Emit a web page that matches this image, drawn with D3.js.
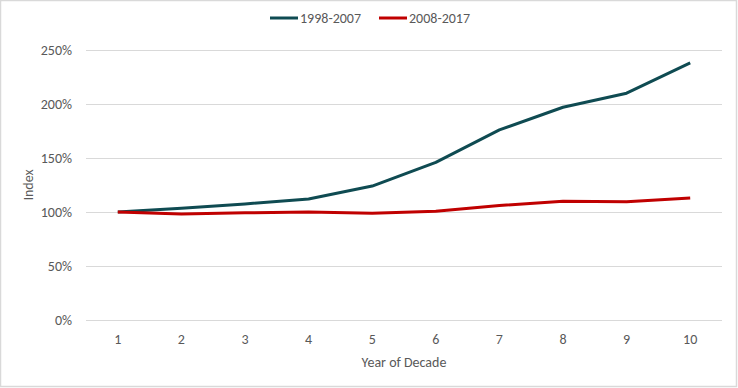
<!DOCTYPE html>
<html>
<head>
<meta charset="utf-8">
<script src="https://cdn.jsdelivr.net/npm/d3@7"></script>
<style>
  body { margin: 0; background: #fff; }
  text { font-family: Calibri, Carlito, "Liberation Sans", sans-serif; fill: #595959; }
</style>
</head>
<body>
<script>
// data
var years = [1, 2, 3, 4, 5, 6, 7, 8, 9, 10];
var decade1998 = [100, 103.5, 107.5, 112, 124, 146, 176, 197, 210, 238];
var decade2008 = [100, 98.2, 99.2, 100, 98.8, 100.8, 106, 110, 109.5, 113];
var yTicks = [0, 50, 100, 150, 200, 250];
var seriesNames = ["1998-2007", "2008-2017"];
var seriesColors = ["#0f4b52", "#c00000"];

var width = 738, height = 388;
var margin = {top: 50, right: 16, bottom: 68, left: 86};
var fontSize = "14px";

var svg = d3.select("body").append("svg")
	.attr("width", width)
	.attr("height", height);

// outer frame like the excel chart area
svg.append("rect")
	.attr("x", 0.5).attr("y", 0.5)
	.attr("width", width - 2).attr("height", height - 2)
	.attr("fill", "#fff")
	.attr("stroke", "#d9d9d9")
	.attr("stroke-width", 1.5);

var x = d3.scaleBand()
	.domain(years)
	.range([margin.left, width - margin.right]);

var y = d3.scaleLinear()
	.domain([0, 250])
	.range([height - margin.bottom, margin.top]);

// gridlines
svg.append("g")
	.selectAll("line")
	.data(yTicks)
	.enter()
	.append("line")
	.attr("x1", margin.left)
	.attr("x2", width - margin.right)
	.attr("y1", function(d) { return Math.round(y(d)) + 0.5; })
	.attr("y2", function(d) { return Math.round(y(d)) + 0.5; })
	.attr("stroke", "#d9d9d9")
	.attr("stroke-width", 1);

// y tick labels
var yAxis = svg.append("g")
	.attr("transform", "translate(" + (margin.left - 10) + ",0)")
	.call(d3.axisLeft(y).tickValues(yTicks).tickSize(0).tickPadding(4)
		.tickFormat(function(d) { return d + "%"; }));
yAxis.select(".domain").remove();
yAxis.selectAll("text")
	.attr("font-size", fontSize)
	.attr("fill", "#595959")
	.style("font-family", null);

// x tick labels
var xAxis = svg.append("g")
	.attr("transform", "translate(0," + (height - margin.bottom) + ")")
	.call(d3.axisBottom(x).tickSize(0).tickPadding(14));
xAxis.select(".domain").remove();
xAxis.selectAll("text")
	.attr("font-size", fontSize)
	.attr("fill", "#595959")
	.style("font-family", null);

// axis titles
svg.append("text")
	.text("Year of Decade")
	.attr("x", (margin.left + width - margin.right) / 2)
	.attr("y", 367)
	.attr("text-anchor", "middle")
	.attr("font-size", fontSize);

svg.append("text")
	.text("Index")
	.attr("transform", "translate(33," + (margin.top + height - margin.bottom) / 2 + ") rotate(-90)")
	.attr("text-anchor", "middle")
	.attr("font-size", fontSize);

// lines
var line = d3.line()
	.x(function(d, i) { return x(years[i]) + x.bandwidth() / 2; })
	.y(function(d) { return y(d); });

[decade1998, decade2008].forEach(function(s, i) {
	svg.append("path")
		.datum(s)
		.attr("d", line)
		.attr("fill", "none")
		.attr("stroke", seriesColors[i])
		.attr("stroke-width", 3)
		.attr("stroke-linejoin", "round");
});

// legend
var legendX = [270, 379];
seriesNames.forEach(function(name, i) {
	var g = svg.append("g").attr("transform", "translate(" + legendX[i] + ",18)");
	g.append("line")
		.attr("x1", 0).attr("x2", 28)
		.attr("y1", 0).attr("y2", 0)
		.attr("stroke", seriesColors[i])
		.attr("stroke-width", 3);
	g.append("text")
		.text(name)
		.attr("x", 30)
		.attr("y", 5)
		.attr("font-size", fontSize);
});
</script>
</body>
</html>
